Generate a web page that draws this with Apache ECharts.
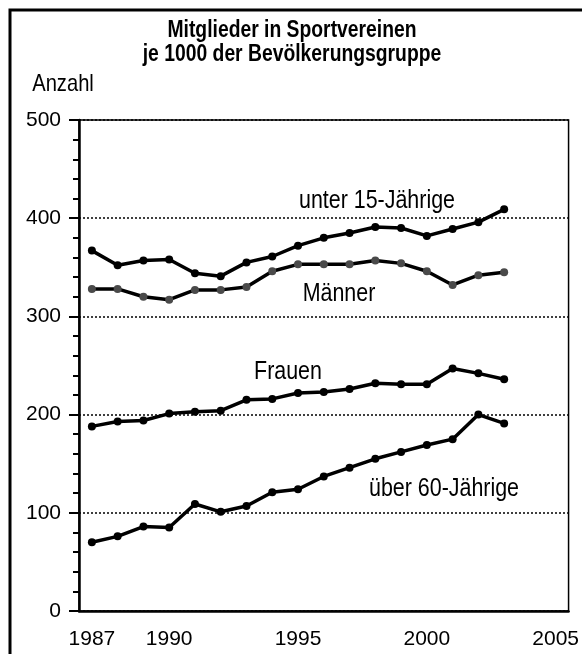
<!DOCTYPE html>
<html>
<head>
<meta charset="utf-8">
<script src="https://cdn.jsdelivr.net/npm/echarts@6/dist/echarts.min.js"></script>
<style>
  html, body { margin: 0; padding: 0; background: #fff; }
  #chart { width: 582px; height: 654px; }
</style>
</head>
<body>
<div id="chart"></div>
<script>
// Jahre auf der x-Achse (Kategorien 1987 bis 2005)
const years = [];
for (let y = 1987; y <= 2005; y++) years.push(String(y));
const labelYears = ['1987', '1990', '1995', '2000', '2005'];

// Werte je 1000 der Bevölkerungsgruppe, 1987 bis 2003
const unter15 = [367, 352, 357, 358, 344, 341, 355, 361, 372, 380, 385, 391, 390, 382, 389, 396, 409];
const maenner = [328, 328, 320, 317, 327, 327, 330, 346, 353, 353, 353, 357, 354, 346, 332, 342, 345];
const frauen = [188, 193, 194, 201, 203, 204, 215, 216, 222, 223, 226, 232, 231, 231, 247, 242, 236];
const ueber60 = [70, 76, 86, 85, 109, 101, 107, 121, 124, 137, 146, 155, 162, 169, 175, 200, 191];

const FONT = "'Liberation Sans', Arial, sans-serif";

const chart = echarts.init(document.getElementById('chart'));

function lineSeries(name, data, dotColor) {
  return {
    name: name,
    type: 'line',
    data: data,
    symbol: 'circle',
    symbolSize: 8,
    lineStyle: { color: '#000', width: 3.5 },
    itemStyle: { color: dotColor },
    silent: true
  };
}

// schmal gesetzter Text (wie Arial Narrow im Original)
function label(text, x, y, size, bold) {
  return {
    type: 'text', x: x, y: y, scaleX: 0.84,
    style: {
      text: text, fontFamily: FONT, fontSize: size, fontWeight: bold ? 'bold' : 'normal',
      fill: '#000', textAlign: 'center', textVerticalAlign: 'middle'
    }
  };
}

const option = {
  animation: false,
  grid: { left: 79, right: 12, top: 120, bottom: 43, show: true, borderColor: '#000', borderWidth: 1.5 },
  xAxis: [
    {
      type: 'category',
      data: years,
      boundaryGap: true,
      axisLine: { lineStyle: { color: '#000', width: 2.5 } },
      axisTick: {
        alignWithLabel: true,
        interval: 0,
        length: 6,
        lineStyle: { color: '#000', width: 2 }
      },
      axisLabel: {
        interval: (i, v) => labelYears.indexOf(v) >= 0,
        margin: 18,
        fontFamily: FONT,
        fontSize: 21,
        color: '#000'
      }
    },
    {
      // längere Striche an den beschrifteten Jahren
      type: 'category',
      data: years,
      position: 'bottom',
      boundaryGap: true,
      axisLine: { show: false },
      axisTick: {
        alignWithLabel: true,
        interval: (i, v) => labelYears.indexOf(v) >= 0,
        length: 10,
        lineStyle: { color: '#000', width: 2 }
      },
      axisLabel: { show: false }
    }
  ],
  yAxis: {
    type: 'value',
    min: 0,
    max: 500,
    interval: 100,
    axisLine: { show: true, lineStyle: { color: '#000', width: 2.5 } },
    axisTick: { show: true, length: 10, lineStyle: { color: '#000', width: 2 } },
    minorTick: { show: true, splitNumber: 5, length: 6, lineStyle: { color: '#000', width: 2 } },
    axisLabel: { margin: 18, fontFamily: FONT, fontSize: 21, color: '#000' },
    splitLine: { show: true, lineStyle: { color: '#000', type: [2, 2], width: 1.5 } }
  },
  graphic: [
    {
      type: 'rect',
      shape: { x: 10, y: 10, width: 700, height: 800 },
      style: { fill: 'none', stroke: '#000', lineWidth: 3 },
      silent: true
    },
    label('Mitglieder in Sportvereinen', 292, 31, 23, true),
    label('je 1000 der Bevölkerungsgruppe', 292, 55, 23, true),
    label('Anzahl', 63, 84, 24),
    label('unter 15-Jährige', 377, 201, 25.5),
    label('Männer', 339, 294, 25.5),
    label('Frauen', 288, 372, 25.5),
    label('über 60-Jährige', 444, 489, 25.5)
  ],
  series: [
    lineSeries('unter 15-Jährige', unter15, '#000'),
    lineSeries('Männer', maenner, '#4a4a4a'),
    lineSeries('Frauen', frauen, '#000'),
    lineSeries('über 60-Jährige', ueber60, '#000')
  ]
};

chart.setOption(option);
</script>
</body>
</html>
